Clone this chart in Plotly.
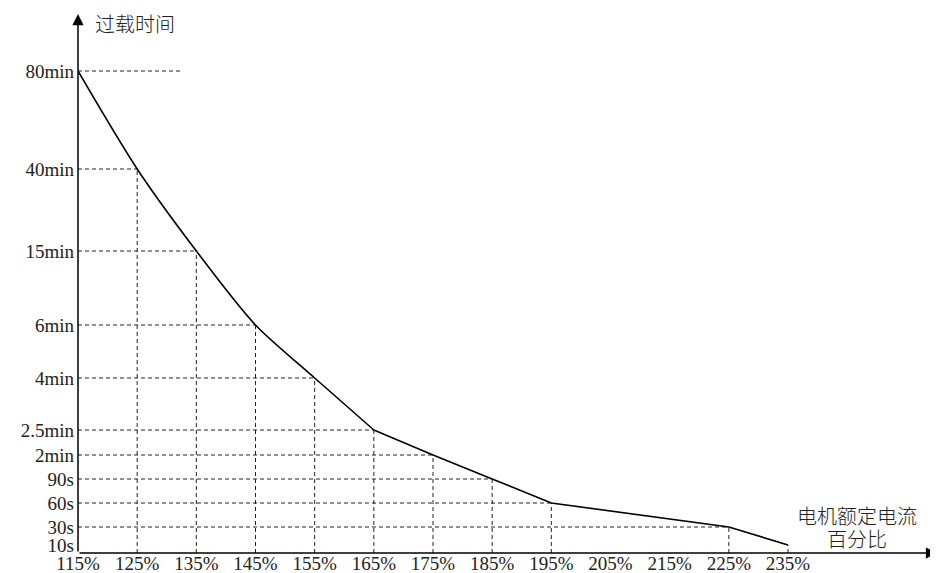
import plotly.graph_objects as go

# ---- data ----
current_pct = [115, 125, 135, 145, 155, 165, 175, 185, 195, 225, 235]
overload_time = ["80min", "40min", "15min", "6min", "4min", "2.5min", "2min", "90s", "60s", "30s", "10s"]

x_tick_vals = [115, 125, 135, 145, 155, 165, 175, 185, 195, 205, 215, 225, 235]
x_tick_text = [f"{v}%" for v in x_tick_vals]

# schematic (non-uniform) time-axis scale
time_labels = ["10s", "30s", "60s", "90s", "2min", "2.5min", "4min", "6min", "15min", "40min", "80min"]
time_levels = [8, 26, 50, 74, 98, 123, 175, 228, 302, 384, 482]

# how far each horizontal dashed guide reaches (x in %)
guide_x_end = [132.5, 125, 135, 145, 155, 165, 175, 185, 195, 225, None]

level_of = dict(zip(time_labels, time_levels))
y_vals = [level_of[t] for t in overload_time]

X0, X1 = 115, 260.35
Y0, Y1 = 0, 540

fig = go.Figure()

# dashed guides
dash_style = dict(color="#222222", width=1, dash="4px,3px")
for xv, yv, xe in zip(current_pct, y_vals, guide_x_end):
    if xe is not None:
        fig.add_trace(go.Scatter(x=[X0, xe], y=[yv, yv], mode="lines", line=dash_style,
                                 hoverinfo="skip", showlegend=False, cliponaxis=False))
    if xv > X0:
        fig.add_trace(go.Scatter(x=[xv, xv], y=[Y0, yv], mode="lines", line=dash_style,
                                 hoverinfo="skip", showlegend=False, cliponaxis=False))

# curve: smooth upper part, straight segments afterwards
split = 6
fig.add_trace(go.Scatter(x=current_pct[:split], y=y_vals[:split], mode="lines",
                         line=dict(color="black", width=1.6, shape="spline", smoothing=0.8),
                         showlegend=False, cliponaxis=False))
fig.add_trace(go.Scatter(x=current_pct[split - 1:], y=y_vals[split - 1:], mode="lines",
                         line=dict(color="black", width=1.6),
                         showlegend=False, cliponaxis=False))

tick_font = dict(family="Liberation Serif", size=19, color="#222")
cjk_font = dict(family="Noto Sans CJK SC", size=20, color="#222", weight=300)

# the page body adds an 8px margin, so the figure is 8px smaller than the window
fig.update_layout(
    width=930, height=565,
    margin=dict(l=70, r=0, t=5, b=20),
    paper_bgcolor="white", plot_bgcolor="white",
    xaxis=dict(range=[X0, X1], tickvals=x_tick_vals, ticktext=x_tick_text,
               showgrid=False, zeroline=False, showline=False, ticks="",
               tickfont=tick_font, automargin=False, ticklabelstandoff=-3),
    yaxis=dict(range=[Y0, Y1], tickvals=time_levels, ticktext=time_labels,
               showgrid=False, zeroline=False, showline=False, ticks="",
               tickfont=tick_font, automargin=False, ticklabelstandoff=3),
    annotations=[
        # axes with arrow heads
        dict(x=X1 - 0.15, y=Y0, ax=X0, ay=Y0, xref="x", yref="y", axref="x", ayref="y",
             text="", showarrow=True, arrowhead=2, arrowsize=1.5, arrowwidth=1.5,
             arrowcolor="black"),
        dict(x=X0, y=Y1 - 1, ax=X0, ay=Y0, xref="x", yref="y", axref="x", ayref="y",
             text="", showarrow=True, arrowhead=2, arrowsize=1.5, arrowwidth=1.5,
             arrowcolor="black"),
        dict(x=117.6, y=530, xref="x", yref="y", text="过载时间", showarrow=False,
             xanchor="left", yanchor="middle", font=cjk_font),
        dict(x=246.7, y=38, xref="x", yref="y", text="电机额定电流", showarrow=False,
             xanchor="center", yanchor="middle", font=cjk_font),
        dict(x=246.7, y=15, xref="x", yref="y", text="百分比", showarrow=False,
             xanchor="center", yanchor="middle", font=cjk_font),
    ],
)

fig.write_html("out.html")
